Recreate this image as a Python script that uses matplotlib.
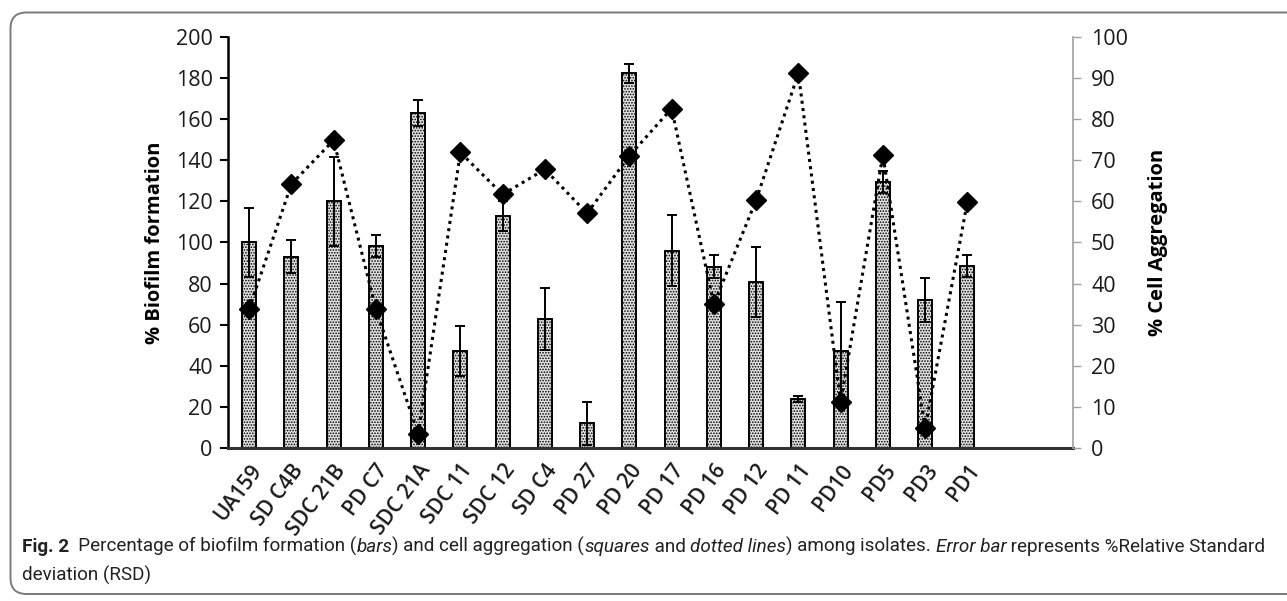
import matplotlib
matplotlib.use("Agg")
import matplotlib.pyplot as plt
from matplotlib.path import Path
from matplotlib.patches import PathPatch
from matplotlib import font_manager
import numpy as np

categories = ["UA159", "SD C4B", "SDC 21B", "PD C7", "SDC 21A", "SDC 11", "SDC 12",
              "SD C4", "PD 27", "PD 20", "PD 17", "PD 16", "PD 12", "PD 11", "PD10",
              "PD5", "PD3", "PD1"]
biofilm = [100, 93, 120, 98.3, 163, 47.2, 112.9, 62.8, 12, 182.3, 96, 88.2, 80.9,
           23.8, 47.2, 129.6, 72, 88.6]
biofilm_err = [17, 8, 21.5, 5.5, 6.5, 12.3, 7.5, 15, 10.5, 4.6, 17.4, 5.7, 17,
               1.5, 24, 5.3, 10.6, 5.4]
aggregation = [33.8, 64.2, 74.9, 33.8, 3.4, 71.9, 61.7, 67.8, 57.1, 71.1, 82.6, 35,
               60.3, 91.2, 11.1, 71.3, 4.8, 59.9]
left_ticks = list(range(0, 201, 20))
right_ticks = list(range(0, 101, 10))
left_label = "% Biofilm formation"
right_label = "% Cell Aggregation"

avail = {f.name for f in font_manager.fontManager.ttflist}
tick_font = "Open Sans" if "Open Sans" in avail else "DejaVu Sans"
cap_font = "Liberation Sans Narrow" if "Liberation Sans Narrow" in avail else (
    "Roboto" if "Roboto" in avail else "DejaVu Sans")

plt.rcParams["hatch.color"] = "#a8a8a8"
plt.rcParams["hatch.linewidth"] = 0.8

W, H = 1287, 601
fig = plt.figure(figsize=(W / 100, H / 100), dpi=100)

# frame (left side rounded, right side runs off the image)
x0, y0, y1, r = 10.5, 12.5, 594.0, 16.0
verts = [(1300, H - y0), (x0 + r, H - y0), (x0, H - y0), (x0, H - y0 - r),
         (x0, H - y1 + r), (x0, H - y1), (x0 + r, H - y1), (1300, H - y1)]
codes = [Path.MOVETO, Path.LINETO, Path.CURVE3, Path.CURVE3, Path.LINETO,
         Path.CURVE3, Path.CURVE3, Path.LINETO]
frame = PathPatch(Path(verts, codes), transform=None, fill=False,
                  edgecolor="#7a7a7a", linewidth=1.4)
fig.patches.append(frame)

ax = fig.add_axes([228 / W, 1 - 448 / H, (1073 - 228) / W, (448 - 37) / H])
ax2 = ax.twinx()

x = np.arange(len(categories))
ax.bar(x, biofilm, width=0.33, color="#e2e2e2", edgecolor="black", linewidth=1.4,
       hatch="......", zorder=2)
ax.errorbar(x, biofilm, yerr=biofilm_err, fmt="none", ecolor="black",
            elinewidth=1.4, capsize=3.5, capthick=1.4, zorder=3)

ax2.plot(x, aggregation, color="black", linestyle=(0, (1, 1.4)), linewidth=2.2,
         marker="D", markersize=10, markerfacecolor="black", markeredgecolor="black")

ax.set_xlim(-0.5, 19.5)
ax.set_ylim(0, 200)
ax2.set_ylim(0, 100)
ax.set_yticks(left_ticks)
ax2.set_yticks(right_ticks)
ax.set_xticks(x)
ax.set_xticklabels(categories, rotation=53, ha="right", rotation_mode="anchor",
                   fontsize=15, family=tick_font, color="#1a1a1a", fontweight="semibold")
for lab in ax.get_yticklabels() + ax2.get_yticklabels():
    lab.set_fontsize(15.5)
    lab.set_family(tick_font)
    lab.set_color("#1a1a1a")

for a in (ax, ax2):
    a.spines["top"].set_visible(False)
ax.spines["right"].set_visible(False)
ax2.spines["left"].set_visible(False)
ax2.spines["bottom"].set_visible(False)
ax.spines["left"].set_linewidth(1.8)
ax.spines["bottom"].set_linewidth(2.2)
ax.spines["bottom"].set_color("#333333")
ax2.spines["right"].set_color("#a0a0a0")
ax2.spines["right"].set_linewidth(1.2)
ax.tick_params(axis="y", direction="out", length=6, width=1.5, pad=5)
ax.tick_params(axis="x", length=0, pad=9)
ax2.tick_params(axis="y", direction="out", length=6, width=1.0, color="#a0a0a0", pad=7)

ax.set_ylabel(left_label, fontsize=14.5, fontweight="bold", family=tick_font, labelpad=8)
ax2.set_ylabel(right_label, fontsize=14.5, fontweight="bold", family=tick_font,
               labelpad=14, rotation=90)

# caption with mixed styles
pieces = [("Fig. 2", "bold", "normal"), ("  Percentage of biofilm formation (", "normal", "normal"),
          ("bars", "normal", "italic"), (") and cell aggregation (", "normal", "normal"),
          ("squares", "normal", "italic"), (" and ", "normal", "normal"),
          ("dotted lines", "normal", "italic"), (") among isolates. ", "normal", "normal"),
          ("Error bar", "normal", "italic"), (" represents %Relative Standard", "normal", "normal")]
line2 = "deviation (RSD)"

renderer = fig.canvas.get_renderer()


def draw_line(size, dry):
    xpos = 22
    objs = []
    for txt, wt, st in pieces:
        t = fig.text(xpos / W, 1 - 552 / H, txt, fontsize=size, fontweight=wt,
                     fontstyle=st, family=cap_font, color="#222222", va="baseline")
        bb = t.get_window_extent(renderer)
        xpos += bb.width
        objs.append(t)
    if dry:
        for t in objs:
            t.remove()
    return xpos


size = 13.5
end = draw_line(size, True)
size = size * (1265 - 22) / (end - 22)
draw_line(size, False)
fig.text(22 / W, 1 - 581 / H, line2, fontsize=size, family=cap_font, color="#222222",
         va="baseline")

fig.savefig("out.png", dpi=100)
